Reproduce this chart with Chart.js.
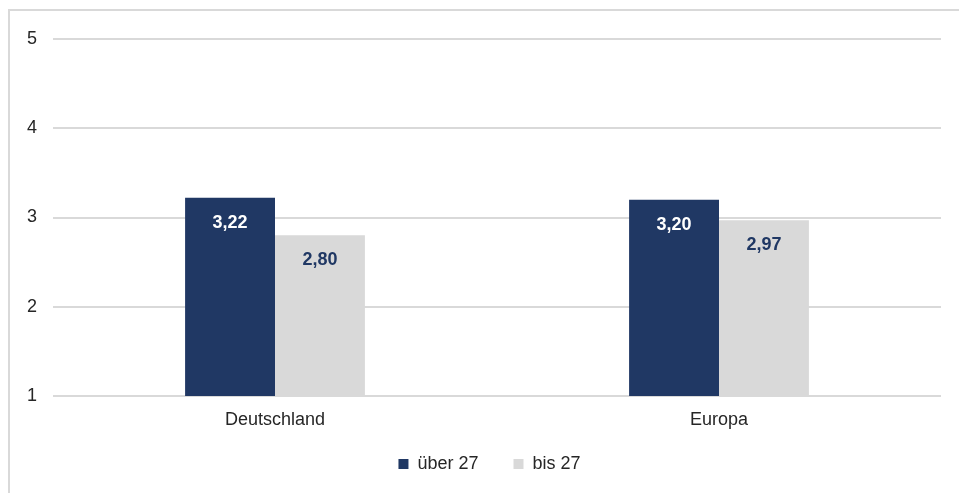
<!DOCTYPE html>
<html>
<head>
<meta charset="utf-8">
<script src="https://cdn.jsdelivr.net/npm/chart.js@4/dist/chart.umd.min.js"></script>
<style>
    html, body { margin: 0; padding: 0; background: #fff; }
    #wrap { position: relative; width: 959px; height: 493px; overflow: hidden; }
    #frame { position: absolute; left: 8px; top: 9px; width: 1000px; height: 600px;
             border-left: 2px solid #d9d9d9; border-top: 2px solid #d9d9d9; }
    #chart { position: absolute; left: 0; top: 0; }
</style>
</head>
<body>
<div id="wrap">
    <div id="frame"></div>
    <canvas id="chart" width="959" height="493"></canvas>
</div>
<script>
// data
const categories = ['Deutschland', 'Europa'];
const seriesNames = ['über 27', 'bis 27'];
const overValues = [3.22, 3.20];
const underValues = [2.80, 2.97];
const yTicks = [1, 2, 3, 4, 5];

const fontFamily = '"Liberation Sans", Arial, sans-serif';

function formatValue(v) {
    return v.toFixed(2).replace('.', ',');
}

// value labels inside the bars
const barLabels = {
    id: 'barLabels',
    afterDatasetsDraw(chart) {
        const ctx = chart.ctx;
        ctx.save();
        ctx.font = 'bold 18px ' + fontFamily;
        ctx.textAlign = 'center';
        ctx.textBaseline = 'middle';
        chart.data.datasets.forEach((ds, i) => {
            const meta = chart.getDatasetMeta(i);
            meta.data.forEach((bar, j) => {
                ctx.fillStyle = ds.labelColor;
                ctx.fillText(formatValue(ds.data[j]), bar.x, bar.y + 25);
            });
        });
        ctx.restore();
    }
};

new Chart(document.getElementById('chart'), {
    type: 'bar',
    data: {
        labels: categories,
        datasets: [{
            label: seriesNames[0],
            data: overValues,
            backgroundColor: '#203864',
            labelColor: '#ffffff'
        }, {
            label: seriesNames[1],
            data: underValues,
            backgroundColor: '#d9d9d9',
            labelColor: '#203864'
        }]
    },
    options: {
        responsive: false,
        animation: false,
        categoryPercentage: 0.405,
        barPercentage: 1,
        layout: { padding: { left: 38, right: 18, top: 39, bottom: 10 } },
        plugins: {
            tooltip: { enabled: false },
            legend: {
                position: 'bottom',
                labels: {
                    boxWidth: 10,
                    boxHeight: 10,
                    padding: 35,
                    color: '#262626',
                    font: { family: fontFamily, size: 18 }
                }
            }
        },
        scales: {
            x: {
                // mirror turns off the label clipping, negative padding puts them back below the axis
                afterFit(scale) { scale.height = 24; },
                grid: { display: false },
                border: { display: false },
                ticks: {
                    mirror: true,
                    color: '#262626',
                    padding: -35,
                    font: { family: fontFamily, size: 18 }
                }
            },
            y: {
                min: 1,
                max: 5,
                afterFit(scale) { scale.width = 15; },
                afterBuildTicks(scale) { scale.ticks = yTicks.map(v => ({ value: v })); },
                grid: { color: '#d9d9d9', lineWidth: 2, drawTicks: false },
                border: { display: false },
                ticks: {
                    mirror: true,
                    color: '#262626',
                    padding: -26,
                    font: { family: fontFamily, size: 18 }
                }
            }
        }
    },
    plugins: [barLabels]
});
</script>
</body>
</html>
